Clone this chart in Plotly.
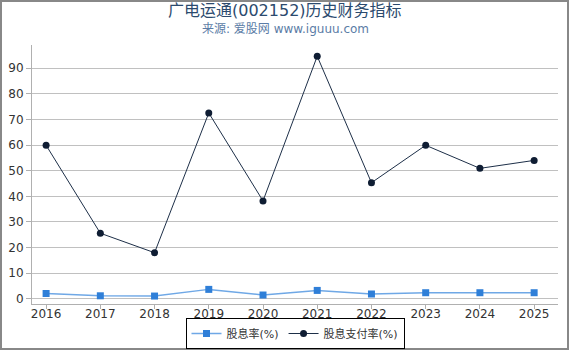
import plotly.graph_objects as go

years = ["2016", "2017", "2018", "2019", "2020", "2021", "2022", "2023", "2024", "2025"]
dividend_yield = [2.1, 1.2, 1.1, 3.7, 1.5, 3.3, 1.9, 2.4, 2.4, 2.4]
payout_ratio = [59.9, 25.6, 18.0, 72.5, 38.2, 94.6, 45.3, 59.9, 50.9, 54.0]
yticks = [0, 10, 20, 30, 40, 50, 60, 70, 80, 90]

xs = [int(y) for y in years]

L, R, T, B = 32, 12, 45, 46
W, H = 570, 350
pw, ph = W - L - R, H - T - B

def px_x(p):
    return (p - L) / pw

def px_y(p):
    return (H - B - p) / ph

FONT = "DejaVu Sans, Noto Sans CJK SC"

fig = go.Figure()
fig.add_trace(go.Scatter(
    x=xs, y=dividend_yield, name="股息率(%)", mode="lines+markers",
    line=dict(color="#6fa8e6", width=1.5),
    marker=dict(symbol="square", size=7, color="#2f7fd8"),
))
fig.add_trace(go.Scatter(
    x=xs, y=payout_ratio, name="股息支付率(%)", mode="lines+markers",
    line=dict(color="#1d2f48", width=1),
    marker=dict(symbol="circle", size=7, color="#0f1d33"),
))

fig.update_layout(
    width=W, height=H,
    margin=dict(l=L, r=R, t=T, b=B, autoexpand=False),
    paper_bgcolor="white", plot_bgcolor="white",
    font=dict(family="DejaVu Sans", size=12, color="#333333"),
    showlegend=True,
    legend=dict(
        orientation="h", x=0.5, xanchor="center", y=px_y(349), yanchor="bottom",
        bordercolor="#000000", borderwidth=1,
        font=dict(family=FONT, size=11, color="#333333"),
        itemwidth=30, tracegroupgap=0,
    ),
    xaxis=dict(
        tickmode="array", tickvals=xs, ticktext=years,
        range=[2015.74, 2025.44],
        showgrid=False, showline=True, linecolor="#b0b0b0", linewidth=1,
        ticks="outside", ticklen=4, tickcolor="#b0b0b0",
        ticklabelstandoff=-5,
        zeroline=False,
    ),
    yaxis=dict(
        tickmode="array", tickvals=yticks,
        range=[-2, 99],
        showgrid=True, gridcolor="#c0c0c0", gridwidth=1,
        showline=True, linecolor="#b0b0b0", linewidth=1,
        ticks="outside", ticklen=5, tickcolor="#b0b0b0",
        zeroline=False,
    ),
    annotations=[
        dict(text="广电运通(002152)历史财务指标", xref="paper", yref="paper",
             x=px_x(285), y=px_y(10), xanchor="center", yanchor="middle", showarrow=False,
             font=dict(family=FONT, size=16, color="#2b4a6e")),
        dict(text="来源: 爱股网 www.iguuu.com", xref="paper", yref="paper",
             x=px_x(285), y=px_y(29), xanchor="center", yanchor="middle", showarrow=False,
             font=dict(family=FONT, size=12, color="#5b7ca6")),
    ],
    shapes=[dict(type="rect", xref="paper", yref="paper",
                 x0=px_x(1), x1=px_x(568), y0=px_y(349), y1=px_y(1),
                 line=dict(color="#888888", width=2), fillcolor="rgba(0,0,0,0)", layer="below")],
)

fig.write_html("out.html")
